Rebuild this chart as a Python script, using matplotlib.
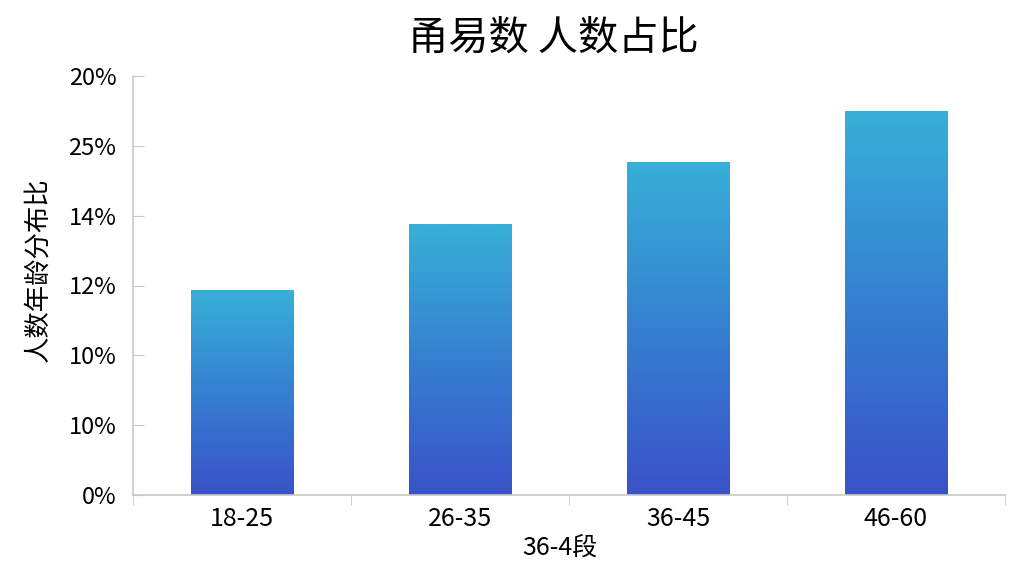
import numpy as np
import matplotlib.pyplot as plt
from matplotlib.colors import LinearSegmentedColormap

plt.rcParams['font.family'] = ['Noto Sans CJK SC', 'DejaVu Sans']

# dados
categorias = ['18-25', '26-35', '36-45', '46-60']
alturas = [2.94, 3.88, 4.77, 5.50]          # em unidades do eixo (posicao dos ticks)
tick_pos = [0, 1, 2, 3, 4, 5, 6]
tick_labels = ['0%', '10%', '10%', '12%', '14%', '25%', '20%']

titulo = '甬易数 人数占比'
ylabel = '人数年龄分布比'
xlabel = '36-4段'

fig = plt.figure(figsize=(10.24, 5.76), dpi=100)
ax = fig.add_axes([133 / 1024, 81 / 576, 872 / 1024, 419 / 576])

cmap = LinearSegmentedColormap.from_list('grad', ['#3a52c8', '#3580d0', '#38b0d8'])
grad = np.linspace(0, 1, 256).reshape(-1, 1)

x = np.arange(len(categorias))
largura = 0.47
barras = ax.bar(x, alturas, width=largura, color='none', edgecolor='none', zorder=2)
for b in barras:
    x0, y0 = b.get_x(), b.get_y()
    w, h = b.get_width(), b.get_height()
    img = ax.imshow(grad, cmap=cmap, origin='lower', aspect='auto',
                    extent=[x0, x0 + w, y0, y0 + h], zorder=2)
    img.set_clip_path(b)

ax.set_xlim(-0.5, len(categorias) - 0.5)
ax.set_ylim(0, 6)

ax.set_yticks(tick_pos)
ax.set_yticklabels(tick_labels, fontsize=17)
ax.tick_params(axis='y', direction='in', length=8, color='#c8c8c8', pad=12)

ax.set_xticks(x)
ax.set_xticklabels(categorias, fontsize=18)
ax.set_xticks(np.arange(-0.5, len(categorias)), minor=True)
ax.tick_params(axis='x', which='major', length=0, pad=8)
ax.tick_params(axis='x', which='minor', direction='out', length=7, color='#c8c8c8')

for s in ['top', 'right']:
    ax.spines[s].set_visible(False)
for s in ['left', 'bottom']:
    ax.spines[s].set_color('#c8c8c8')
    ax.spines[s].set_linewidth(1.2)

fig.text(553 / 1024, 1 - 38 / 576, titulo, fontsize=29, ha='center', va='center')
fig.text(38 / 1024, 1 - 270 / 576, ylabel, fontsize=19, rotation=90, ha='center', va='center')
fig.text(560 / 1024, 1 - 548 / 576, xlabel, fontsize=18, ha='center', va='center')

plt.savefig('out.png', dpi=100)
